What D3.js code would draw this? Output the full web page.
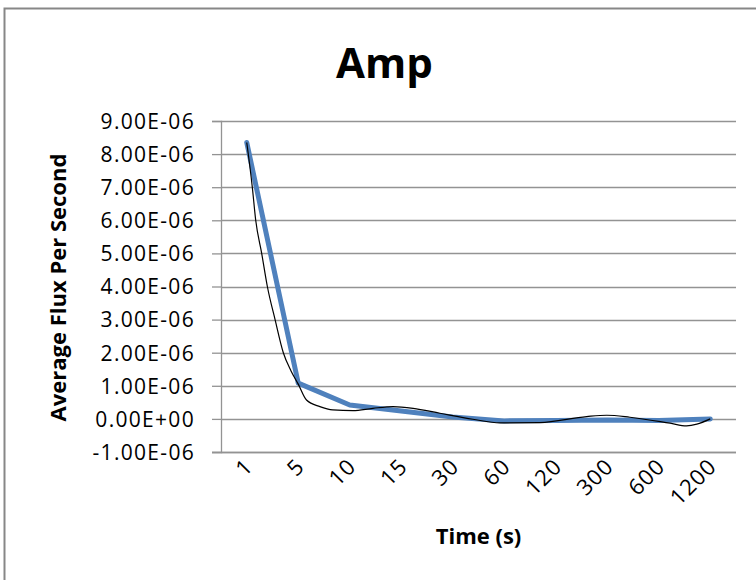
<!DOCTYPE html>
<html>
<head>
<meta charset="utf-8">
<script src="https://cdn.jsdelivr.net/npm/d3@7"></script>
<style>
  html, body { margin: 0; padding: 0; background: #fff; }
  svg { display: block; }
</style>
</head>
<body>
<svg id="chart" width="756" height="580"></svg>
<script>
// ---- data ----
const categories = ["1", "5", "10", "15", "30", "60", "120", "300", "600", "1200"];
const fluxValues = [8.35e-6, 1.08e-6, 0.42e-6, 0.24e-6, 0.06e-6, -0.06e-6, -0.05e-6, -0.03e-6, -0.05e-6, 0.0];
const yTickValues = [-1e-6, 0, 1e-6, 2e-6, 3e-6, 4e-6, 5e-6, 6e-6, 7e-6, 8e-6, 9e-6];
const yTickLabels = ["-1.00E-06", "0.00E+00", "1.00E-06", "2.00E-06", "3.00E-06", "4.00E-06",
                     "5.00E-06", "6.00E-06", "7.00E-06", "8.00E-06", "9.00E-06"];
// trendline: position in category index units, value
const trendPos = [0, 0.108, 0.174, 0.29, 0.40, 0.55, 0.71, 0.86, 1.0, 1.16, 1.42, 1.67, 2.06, 2.45, 2.84, 3.23, 3.75, 4.39, 4.92, 5.69, 6.6, 6.99, 7.44, 8.22, 8.54, 8.74, 9.0];
const trendVals = [8.35e-6, 7.0e-6, 6.0e-6, 5.0e-6, 4.0e-6, 3.0e-6, 2.0e-6, 1.45e-6, 1.05e-6, 0.57e-6, 0.37e-6, 0.27e-6, 0.25e-6, 0.32e-6, 0.37e-6, 0.32e-6, 0.17e-6, -0.01e-6, -0.12e-6, -0.11e-6, 0.07e-6, 0.11e-6, 0.05e-6, -0.13e-6, -0.21e-6, -0.16e-6, 0.0];
const chartTitle = "Amp";
const xTitle = "Time (s)";
const yTitle = "Average Flux Per Second";

// ---- layout ----
const svg = d3.select("#chart");
const plot = { left: 221, right: 736, top: 121, bottom: 452 };
const FONT = "'Open Sans', 'Liberation Sans', Arial, sans-serif";

// outer frame
svg.append("rect")
  .attr("x", 4.5).attr("y", 8.5).attr("width", 800).attr("height", 620)
  .attr("fill", "#fff").attr("stroke", "#878787").attr("stroke-width", 2);

const x = d3.scalePoint().domain(categories).range([plot.left, plot.right]).padding(0.5);
const y = d3.scaleLinear().domain([-1e-6, 9e-6]).range([plot.bottom, plot.top]);
const xi = d3.scaleLinear().domain([0, categories.length - 1])
  .range([x(categories[0]), x(categories[categories.length - 1])]);

// gridlines
svg.append("g").selectAll("line").data(yTickValues).join("line")
  .attr("x1", plot.left).attr("x2", plot.right)
  .attr("y1", d => Math.round(y(d)) + 0.5).attr("y2", d => Math.round(y(d)) + 0.5)
  .attr("stroke", "#939393").attr("stroke-width", 1.3);

// y axis
const yAxis = d3.axisLeft(y).tickValues(yTickValues)
  .tickFormat((d, i) => yTickLabels[i]).tickSize(9).tickPadding(17);
const gy = svg.append("g").attr("transform", `translate(${plot.left},0)`).call(yAxis);
gy.select(".domain").attr("stroke", "#939393").attr("stroke-width", 1.3);
gy.selectAll(".tick line").attr("stroke", "#939393").attr("stroke-width", 1.3);
gy.selectAll(".tick text")
  .attr("fill", "#000").style("font-family", FONT).style("font-size", "21px")
  .style("letter-spacing", "1.3px").attr("dy", "0.35em");

// x axis (no tick marks)
const xAxis = d3.axisBottom(x).tickSize(0).tickPadding(0);
const gx = svg.append("g").attr("transform", `translate(0,${plot.bottom})`).call(xAxis);
gx.select(".domain").remove();
svg.append("line").attr("x1", 212).attr("x2", plot.right)
  .attr("y1", plot.bottom + 0.5).attr("y2", plot.bottom + 0.5)
  .attr("stroke", "#939393").attr("stroke-width", 1.3);
gx.selectAll(".tick text")
  .attr("fill", "#000").style("font-family", FONT).style("font-size", "22px")
  .style("letter-spacing", "1px")
  .attr("text-anchor", "end").attr("dy", 0).attr("y", 0)
  .attr("transform", "translate(7,16) rotate(-45)");

// series line
const line = d3.line().x((d, i) => x(categories[i])).y(d => y(d));
svg.append("path").datum(fluxValues)
  .attr("d", line).attr("fill", "none")
  .attr("stroke", "#4F81BD").attr("stroke-width", 5)
  .attr("stroke-linejoin", "round").attr("stroke-linecap", "round");

// trendline
const trend = d3.line().x((d, i) => xi(trendPos[i])).y(d => y(d)).curve(d3.curveMonotoneX);
svg.append("path").datum(trendVals)
  .attr("d", trend).attr("fill", "none")
  .attr("stroke", "#000").attr("stroke-width", 1.2);

// titles
svg.append("text").attr("x", 384.5).attr("y", 78)
  .attr("text-anchor", "middle").style("font-family", FONT)
  .style("font-weight", "bold").style("font-size", "42px").attr("fill", "#000")
  .text(chartTitle);

svg.append("text").attr("x", (plot.left + plot.right) / 2).attr("y", 544)
  .attr("text-anchor", "middle").style("font-family", FONT)
  .style("font-weight", "bold").style("font-size", "22px").attr("fill", "#000")
  .text(xTitle);

svg.append("text").attr("transform", "translate(66,287.5) rotate(-90)")
  .attr("text-anchor", "middle").style("font-family", FONT)
  .style("font-weight", "bold").style("font-size", "22px").attr("fill", "#000")
  .text(yTitle);
</script>
</body>
</html>
